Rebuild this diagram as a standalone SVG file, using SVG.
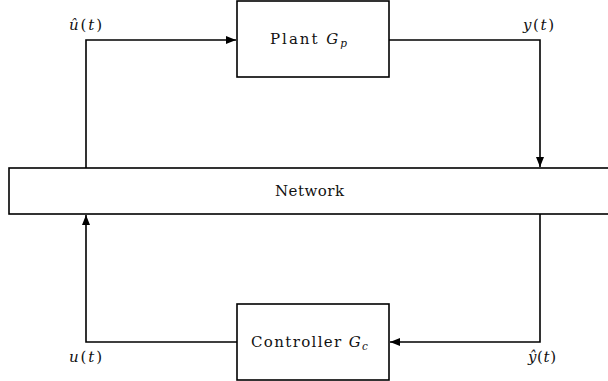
<svg xmlns="http://www.w3.org/2000/svg" width="608" height="381" viewBox="0 0 608 381">
<style>
.box{fill:#fff;stroke:#000;stroke-width:1.6}
.ln{fill:none;stroke:#000;stroke-width:1.6}
.t{font-family:"DejaVu Serif","Liberation Serif",serif;font-size:15px;fill:#111}
.i{font-style:italic}
</style>
<defs>
<marker id="ah" viewBox="0 0 10 8" refX="10" refY="4" markerWidth="10" markerHeight="8" markerUnits="userSpaceOnUse" orient="auto">
<path d="M0,0 L10,4 L0,8 Z" fill="#000"/>
</marker>
</defs>
<rect width="608" height="381" fill="#fff"/>
<g id="connectors">
<path class="ln" d="M86,168 V40 H236" marker-end="url(#ah)"/>
<path class="ln" d="M389,40 H540 V167" marker-end="url(#ah)"/>
<path class="ln" d="M540,214 V342 H390" marker-end="url(#ah)"/>
<path class="ln" d="M237,342 H86 V215" marker-end="url(#ah)"/>
</g>
<g id="plant">
<rect class="box" x="237" y="1" width="152" height="76"/>
<text class="t" x="270" y="44" textLength="77" lengthAdjust="spacing">Plant <tspan class="i">G</tspan><tspan class="i" font-size="10.5" dy="3">p</tspan></text>
</g>
<g id="network">
<rect class="box" x="9" y="168" width="620" height="46"/>
<text class="t" x="275" y="196" textLength="69" lengthAdjust="spacing">Network</text>
</g>
<g id="controller">
<rect class="box" x="237" y="304" width="152" height="76"/>
<text class="t" x="251" y="347" textLength="117" lengthAdjust="spacing">Controller <tspan class="i">G</tspan><tspan class="i" font-size="10.5" dy="3">c</tspan></text>
</g>
<g id="labels">
<text class="t" x="69" y="30" textLength="33" lengthAdjust="spacing"><tspan class="i">û</tspan>(<tspan class="i">t</tspan>)</text>
<text class="t" x="523" y="30" textLength="31" lengthAdjust="spacing"><tspan class="i">y</tspan>(<tspan class="i">t</tspan>)</text>
<text class="t" x="69" y="362" textLength="33" lengthAdjust="spacing"><tspan class="i">u</tspan>(<tspan class="i">t</tspan>)</text>
<text class="t" x="528" y="362" textLength="28" lengthAdjust="spacing"><tspan class="i">ŷ</tspan>(<tspan class="i">t</tspan>)</text>
</g>
</svg>
